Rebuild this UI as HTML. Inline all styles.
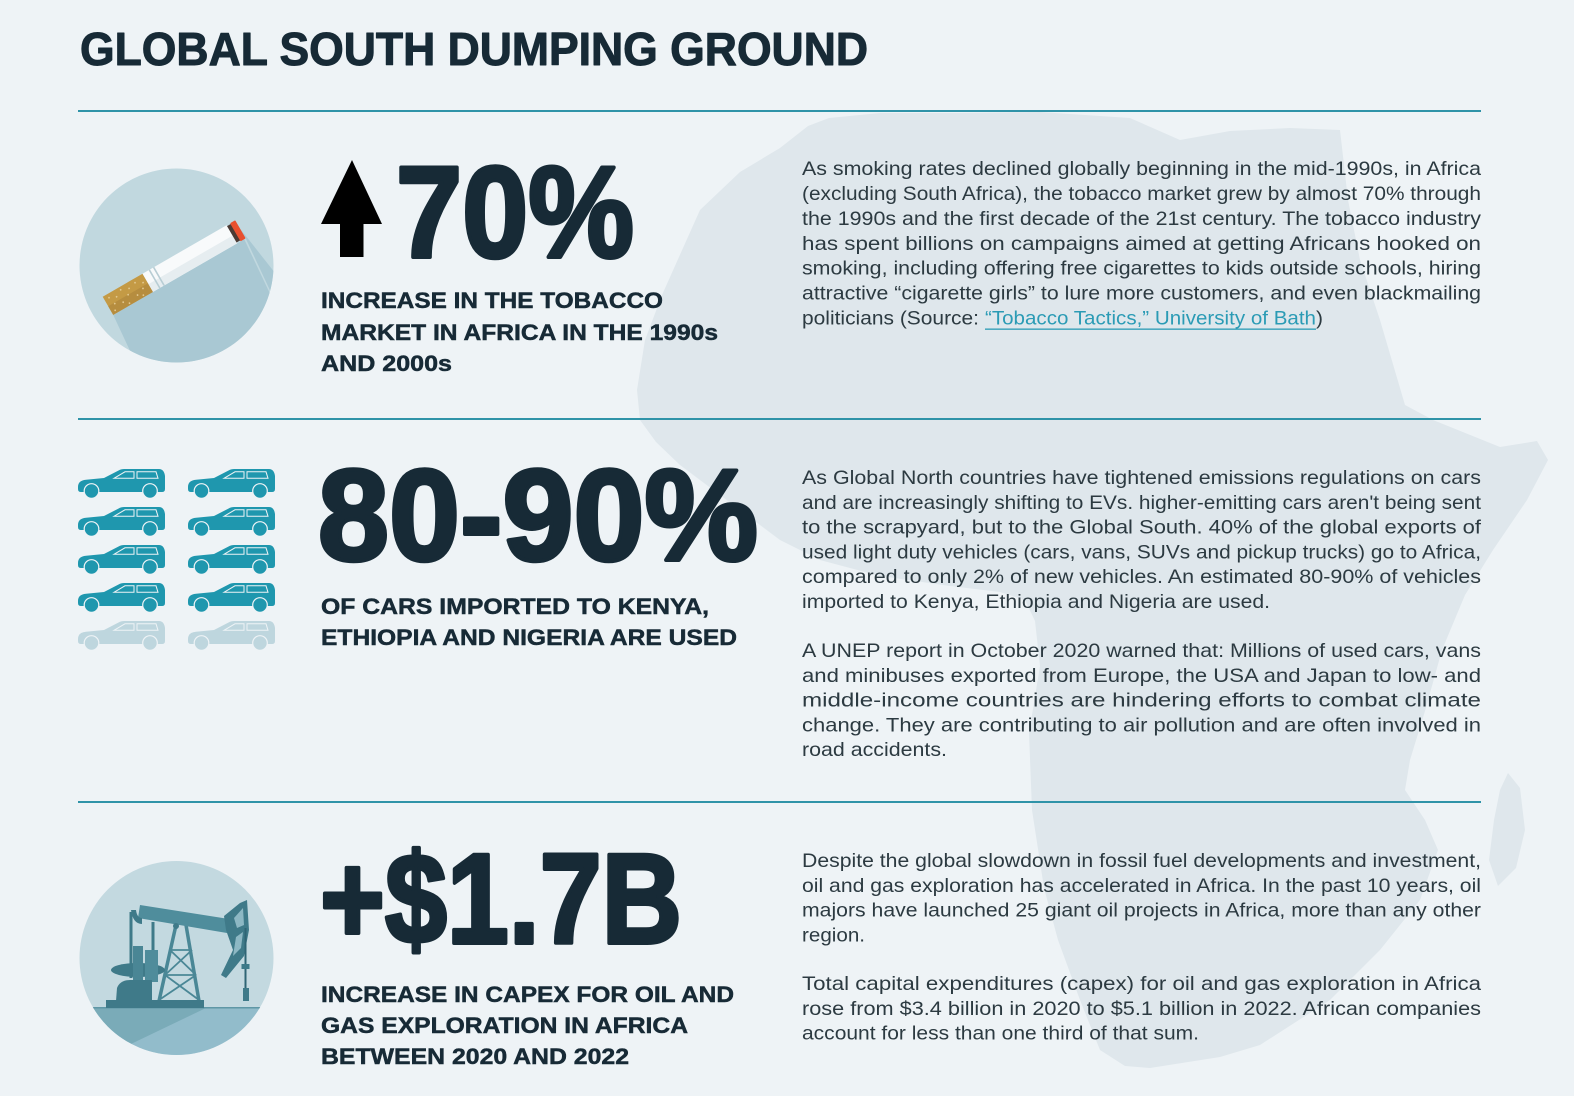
<!DOCTYPE html>
<html><head><meta charset="utf-8"><style>
html,body{margin:0;padding:0;background:#eef3f6;}
svg{display:block;}
</style></head><body>
<svg xmlns="http://www.w3.org/2000/svg" width="1574" height="1096" viewBox="0 0 1574 1096" font-family="'Liberation Sans', Arial, sans-serif">
<defs>
  <clipPath id="c1"><circle cx="176.5" cy="265.5" r="97"/></clipPath>
  <clipPath id="c3"><circle cx="176.5" cy="958" r="97"/></clipPath>
  <g id="car">
    <path d="M0,19 Q0,12.5 8,11.8 L26,10 L42,1.8 Q43.5,1 46,1 L81,1 Q86,1 87,8 L87,21 Q87,24 84,24 L3,24 Q0,24 0,21 Z"/>
    <circle cx="13.5" cy="23" r="7.3" stroke="#eef3f6" stroke-width="1.2"/>
    <circle cx="72" cy="23" r="7.3" stroke="#eef3f6" stroke-width="1.2"/>
    <path d="M36,10.3 L47,3.8 L56,3.8 L56,10.3 Z M59,3.8 L78,3.8 L80,10.3 L59,10.3 Z" fill="none" stroke="#eef3f6" stroke-width="1"/>
  </g>
</defs>
<rect width="1574" height="1096" fill="#eef3f6"/>

<!-- Africa silhouette -->
<path fill="#dfe7ec" d="M829,118 L880,113 L960,113 L1040,112 L1130,118 L1180,140 L1230,131 L1290,128 L1340,130 L1348,200 L1360,260 L1380,320 L1405,405 L1433,420 L1500,447 L1537,441 L1548,460 L1527,500 L1493,550 L1465,595 L1442,650 L1425,711 L1410,760 L1405,790 L1425,820 L1438,850 L1420,900 L1380,950 L1330,1000 L1260,1045 L1220,1057 L1150,1068 L1125,1066 L1100,1050 L1080,1000 L1058,940 L1044,888 L1032,810 L1029,733 L1040,666 L1035,621 L1025,600 L1000,592 L950,586 L880,576 L820,560 L780,540 L720,495 L680,465 L656,442 L640,420 L637,390 L645,340 L662,295 L700,210 L740,172 L780,148 L808,126 Z"/>
<path fill="#dfe7ec" d="M1508,773 L1520,788 L1525,830 L1516,868 L1498,886 L1489,860 L1494,820 L1500,790 Z"/>

<!-- Title -->
<text x="80" y="65" font-size="46" font-weight="bold" fill="#172a36" stroke="#172a36" stroke-width="1" stroke-linejoin="round" textLength="788" lengthAdjust="spacingAndGlyphs">GLOBAL SOUTH DUMPING GROUND</text>

<!-- Divider lines -->
<rect x="78" y="110" width="1403" height="2" fill="#2f93a8"/>
<rect x="78" y="418" width="1403" height="2" fill="#2f93a8"/>
<rect x="78" y="801" width="1403" height="2" fill="#2f93a8"/>

<!-- Section 1 icon -->
<circle cx="176.5" cy="265.5" r="97" fill="#c1d8df"/>
<g clip-path="url(#c1)">
  <g transform="translate(102.7,296.7) rotate(-30)">
    <polygon points="0,21 153,21 153,0 127,321 -26,321" fill="#a9c8d3"/>
    <polygon points="153,21 153,10 200,330 127,321" fill="#a9c8d3"/>
    <rect x="0" y="0" width="46" height="21" fill="#c49a45"/>
    <rect x="0" y="11" width="46" height="10" fill="#b68d3f"/>
    <g fill="#e3c88f">
      <circle cx="5" cy="4" r="0.9"/><circle cx="12" cy="7" r="0.9"/><circle cx="19" cy="3" r="0.9"/><circle cx="27" cy="6" r="0.9"/><circle cx="35" cy="4" r="0.9"/><circle cx="42" cy="8" r="0.9"/>
      <circle cx="7" cy="12" r="0.9"/><circle cx="15" cy="15" r="0.9"/><circle cx="23" cy="11" r="0.9"/><circle cx="31" cy="16" r="0.9"/><circle cx="39" cy="13" r="0.9"/><circle cx="4" cy="18" r="0.9"/><circle cx="20" cy="19" r="0.9"/><circle cx="36" cy="19" r="0.9"/>
    </g>
    <rect x="46" y="0" width="97" height="21" fill="#f8fafb"/>
    <rect x="46" y="12" width="97" height="9" fill="#e6edf0"/>
    <rect x="53" y="0" width="1.6" height="21" fill="#b8cdd4"/>
    <rect x="58" y="0" width="1.6" height="21" fill="#b8cdd4"/>
    <rect x="143" y="1" width="5" height="19" fill="#4a3a34"/>
    <rect x="147" y="0" width="6" height="21" rx="1" fill="#e8502f"/>
  </g>
</g>

<!-- Arrow -->
<polygon points="352,160 382,224 363.5,224 363.5,257 340,257 340,224 321,224" fill="#000"/>

<text x="396" y="257" font-size="130" font-weight="bold" fill="#172a36" stroke="#172a36" stroke-width="4" stroke-linejoin="round" textLength="238" lengthAdjust="spacingAndGlyphs">70%</text>

<g font-size="22.5" font-weight="bold" fill="#172a36" stroke="#172a36" stroke-width="0.5">
<text x="321" y="308" textLength="342" lengthAdjust="spacingAndGlyphs">INCREASE IN THE TOBACCO</text>
<text x="321" y="340" textLength="397" lengthAdjust="spacingAndGlyphs">MARKET IN AFRICA IN THE 1990s</text>
<text x="321" y="371" textLength="131" lengthAdjust="spacingAndGlyphs">AND 2000s</text>
</g>

<!-- Paragraph 1 -->
<g font-size="19.5" fill="#2c3a41">
<text x="802" y="175" textLength="679" lengthAdjust="spacingAndGlyphs">As smoking rates declined globally beginning in the mid-1990s, in Africa</text>
<text x="802" y="200" textLength="679" lengthAdjust="spacingAndGlyphs">(excluding South Africa), the tobacco market grew by almost 70% through</text>
<text x="802" y="225" textLength="679" lengthAdjust="spacingAndGlyphs">the 1990s and the first decade of the 21st century. The tobacco industry</text>
<text x="802" y="250" textLength="679" lengthAdjust="spacingAndGlyphs">has spent billions on campaigns aimed at getting Africans hooked on</text>
<text x="802" y="274.6" textLength="679" lengthAdjust="spacingAndGlyphs">smoking, including offering free cigarettes to kids outside schools, hiring</text>
<text x="802" y="299.5" textLength="679" lengthAdjust="spacingAndGlyphs">attractive “cigarette girls” to lure more customers, and even blackmailing</text>
<text x="802" y="324.4" textLength="177" lengthAdjust="spacingAndGlyphs">politicians (Source:</text>
<text x="985" y="324.4" fill="#2b9bb5" textLength="331" lengthAdjust="spacingAndGlyphs">“Tobacco Tactics,” University of Bath</text>
<text x="1316" y="324.4" textLength="7" lengthAdjust="spacingAndGlyphs">)</text>
</g>
<rect x="985" y="328.5" width="331" height="1.3" fill="#2b9bb5"/>

<!-- Section 2 cars -->
<g fill="#1f97ae">
  <use href="#car" x="78" y="468"/><use href="#car" x="188" y="468"/>
  <use href="#car" x="78" y="506"/><use href="#car" x="188" y="506"/>
  <use href="#car" x="78" y="544"/><use href="#car" x="188" y="544"/>
  <use href="#car" x="78" y="582"/><use href="#car" x="188" y="582"/>
</g>
<g fill="#bed6de">
  <use href="#car" x="78" y="620"/><use href="#car" x="188" y="620"/>
</g>

<text x="318" y="560" font-size="130" font-weight="bold" fill="#172a36" stroke="#172a36" stroke-width="4" stroke-linejoin="round" textLength="440" lengthAdjust="spacingAndGlyphs">80-90%</text>

<g font-size="22.5" font-weight="bold" fill="#172a36" stroke="#172a36" stroke-width="0.5">
<text x="321" y="614" textLength="388" lengthAdjust="spacingAndGlyphs">OF CARS IMPORTED TO KENYA,</text>
<text x="321" y="645" textLength="416" lengthAdjust="spacingAndGlyphs">ETHIOPIA AND NIGERIA ARE USED</text>
</g>

<!-- Paragraph 2 & 3 -->
<g font-size="19.5" fill="#2c3a41">
<text x="802" y="484" textLength="679" lengthAdjust="spacingAndGlyphs">As Global North countries have tightened emissions regulations on cars</text>
<text x="802" y="508.8" textLength="679" lengthAdjust="spacingAndGlyphs">and are increasingly shifting to EVs. higher-emitting cars aren't being sent</text>
<text x="802" y="533.6" textLength="679" lengthAdjust="spacingAndGlyphs">to the scrapyard, but to the Global South. 40% of the global exports of</text>
<text x="802" y="558.4" textLength="679" lengthAdjust="spacingAndGlyphs">used light duty vehicles (cars, vans, SUVs and pickup trucks) go to Africa,</text>
<text x="802" y="583.2" textLength="679" lengthAdjust="spacingAndGlyphs">compared to only 2% of new vehicles. An estimated 80-90% of vehicles</text>
<text x="802" y="608" textLength="468" lengthAdjust="spacingAndGlyphs">imported to Kenya, Ethiopia and Nigeria are used.</text>

<text x="802" y="657" textLength="679" lengthAdjust="spacingAndGlyphs">A UNEP report in October 2020 warned that: Millions of used cars, vans</text>
<text x="802" y="681.8" textLength="679" lengthAdjust="spacingAndGlyphs">and minibuses exported from Europe, the USA and Japan to low- and</text>
<text x="802" y="706.6" textLength="679" lengthAdjust="spacingAndGlyphs">middle-income countries are hindering efforts to combat climate</text>
<text x="802" y="731.4" textLength="679" lengthAdjust="spacingAndGlyphs">change. They are contributing to air pollution and are often involved in</text>
<text x="802" y="756.2" textLength="145" lengthAdjust="spacingAndGlyphs">road accidents.</text>
</g>

<!-- Section 3 icon -->
<circle cx="176.5" cy="958" r="97" fill="#c3d9e0"/>
<g clip-path="url(#c3)">
  <rect x="70" y="1008" width="220" height="60" fill="#92bccb"/>
  <polygon points="70,1008 206,1008 133,1043 70,1075" fill="#7aabb8"/>
  <rect x="70" y="1007" width="220" height="1.5" fill="#5f97a6"/>
</g>
<g>
  <g stroke="#4a8796" stroke-width="3.5" fill="none">
    <line x1="176" y1="925" x2="159" y2="1001"/>
    <line x1="186" y1="925" x2="199" y2="1001"/>
  </g>
  <g stroke="#4a8796" stroke-width="1.8" fill="none">
    <line x1="170" y1="950" x2="192" y2="950"/>
    <line x1="165" y1="975" x2="196" y2="975"/>
    <line x1="170" y1="950" x2="196" y2="975"/>
    <line x1="192" y1="950" x2="165" y2="975"/>
    <line x1="165" y1="975" x2="199" y2="1000"/>
    <line x1="196" y1="975" x2="159" y2="1000"/>
  </g>
  <line x1="131" y1="912" x2="131" y2="978" stroke="#3f7a89" stroke-width="3"/>
  <line x1="153" y1="922" x2="153" y2="968" stroke="#3f7a89" stroke-width="3"/>
  <ellipse cx="138" cy="970" rx="27" ry="7" fill="#3f7a89"/>
  <rect x="133" y="946" width="10" height="36" fill="#4a8695"/>
  <rect x="145" y="950" width="13" height="32" fill="#4f8c9b"/>
  <path d="M116,1001 L117,988 Q120,980 130,980 L152,980 L152,1001 Z" fill="#3f7a89"/>
  <polygon points="140,905 229,919 227,933 138,918" fill="#4f8d9c"/>
  <path d="M131,910 Q133,924 142,924 L142,918 Q137,918 136,910 Z" fill="#3f7a89"/>
  <circle cx="176" cy="926" r="3" fill="#3f7a89"/>
  <path d="M224,916 L240,903 L247,900 L249,930 L244,956 L226,978 L221,975 L233,950 L226,930 Z" fill="#3f7a89"/>
  <polygon points="234,918 243,908 244,925 237,928" fill="#8db8c4"/>
  <polygon points="236,937 243,932 241,948 233,956" fill="#8db8c4"/>
  <line x1="245.5" y1="928" x2="245.5" y2="1001" stroke="#2f6575" stroke-width="2"/>
  <rect x="241.5" y="964" width="8" height="5" fill="#3f7a89"/>
  <rect x="243" y="988" width="6" height="13" fill="#3f7a89"/>
  <rect x="106" y="1000" width="98" height="8" fill="#3f7a89"/>
</g>

<!-- +$1.7B -->
<text x="320" y="943" font-size="128" font-weight="bold" fill="#172a36" stroke="#172a36" stroke-width="4" stroke-linejoin="round" textLength="362" lengthAdjust="spacingAndGlyphs">+$1.7B</text>

<g font-size="22.5" font-weight="bold" fill="#172a36" stroke="#172a36" stroke-width="0.5">
<text x="321" y="1002" textLength="413" lengthAdjust="spacingAndGlyphs">INCREASE IN CAPEX FOR OIL AND</text>
<text x="321" y="1033" textLength="367" lengthAdjust="spacingAndGlyphs">GAS EXPLORATION IN AFRICA</text>
<text x="321" y="1064" textLength="308" lengthAdjust="spacingAndGlyphs">BETWEEN 2020 AND 2022</text>
</g>

<!-- Paragraph 4 & 5 -->
<g font-size="19.5" fill="#2c3a41">
<text x="802" y="867" textLength="679" lengthAdjust="spacingAndGlyphs">Despite the global slowdown in fossil fuel developments and investment,</text>
<text x="802" y="891.8" textLength="679" lengthAdjust="spacingAndGlyphs">oil and gas exploration has accelerated in Africa. In the past 10 years, oil</text>
<text x="802" y="916.6" textLength="679" lengthAdjust="spacingAndGlyphs">majors have launched 25 giant oil projects in Africa, more than any other</text>
<text x="802" y="941.4" textLength="63" lengthAdjust="spacingAndGlyphs">region.</text>

<text x="802" y="990" textLength="679" lengthAdjust="spacingAndGlyphs">Total capital expenditures (capex) for oil and gas exploration in Africa</text>
<text x="802" y="1014.8" textLength="679" lengthAdjust="spacingAndGlyphs">rose from $3.4 billion in 2020 to $5.1 billion in 2022. African companies</text>
<text x="802" y="1039.6" textLength="397" lengthAdjust="spacingAndGlyphs">account for less than one third of that sum.</text>
</g>
</svg>
</body></html>
